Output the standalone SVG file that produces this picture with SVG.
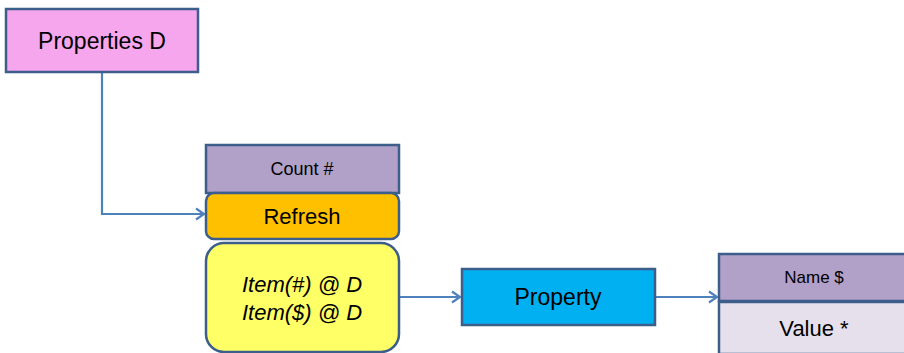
<svg xmlns="http://www.w3.org/2000/svg" width="904" height="353" viewBox="0 0 904 353">
<defs>
<style>
.box{stroke:#3C5E8A;stroke-width:2.5}
.t{font-family:"Liberation Sans",Arial,sans-serif;fill:#000;text-anchor:middle;dominant-baseline:central}
.conn{fill:none;stroke:#4F81BD;stroke-width:2.2}
</style>
<marker id="arr" markerWidth="14" markerHeight="14" refX="11" refY="7" orient="auto" markerUnits="userSpaceOnUse">
<path d="M3,1.5 L11,7 L3,12.5" fill="none" stroke="#4F81BD" stroke-width="2.2"/>
</marker>
</defs>
<rect width="904" height="353" fill="#fff"/>
<g id="connectors">
<path class="conn" d="M102,72 V214 H204" marker-end="url(#arr)"/>
<path class="conn" d="M399,297 H460" marker-end="url(#arr)"/>
<path class="conn" d="M655,297 H717" marker-end="url(#arr)"/>
</g>
<g id="properties">
<rect class="box" x="6" y="9" width="192" height="63" fill="#F5A6EC"/>
<text class="t" x="102" y="41" font-size="23">Properties D</text>
</g>
<g id="count">
<rect class="box" x="206" y="145" width="193" height="48" fill="#B1A0C7"/>
<text class="t" x="302" y="169" font-size="18">Count #</text>
</g>
<g id="refresh">
<rect class="box" x="206" y="193" width="193" height="46" rx="8" fill="#FFC000"/>
<text class="t" x="302" y="216" font-size="22">Refresh</text>
</g>
<g id="items">
<rect class="box" x="206" y="243" width="193" height="109" rx="18" fill="#FFFF66"/>
<text class="t" x="302" y="284" font-size="22" font-style="italic">Item(#) @ D</text>
<text class="t" x="302" y="312" font-size="22" font-style="italic">Item($) @ D</text>
</g>
<g id="property">
<rect class="box" x="462" y="269" width="193" height="56" fill="#00B0F0"/>
<text class="t" x="558" y="297" font-size="23">Property</text>
</g>
<g id="name">
<rect class="box" x="719" y="254" width="190" height="47" fill="#B1A0C7"/>
<text class="t" x="814" y="277" font-size="17">Name $</text>
</g>
<g id="value">
<rect class="box" x="719" y="302" width="190" height="52" fill="#E5E0EC"/>
<text class="t" x="814" y="328" font-size="22">Value *</text>
</g>
</svg>
